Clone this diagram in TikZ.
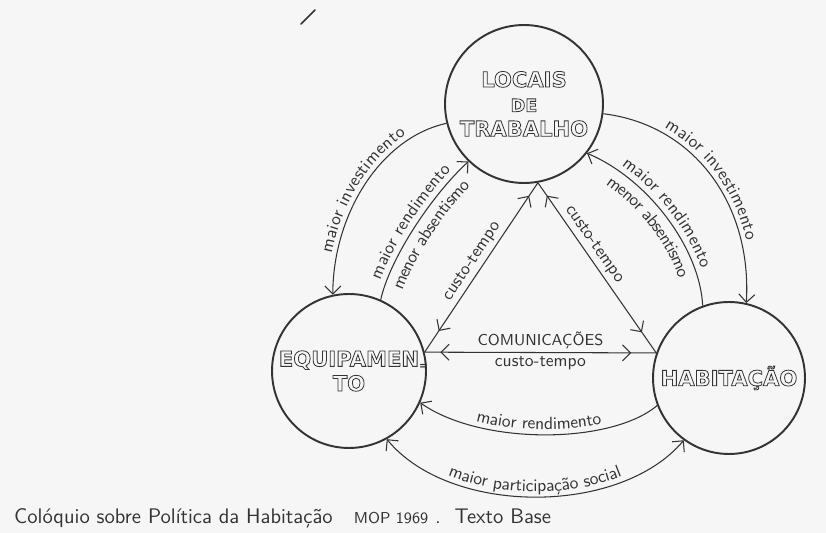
\documentclass[tikz,border=0pt]{standalone}
\usepackage{fontspec}
\newfontfamily\capsfont{DejaVu Sans}
\usetikzlibrary{arrows.meta, decorations.markings, decorations.text}
\definecolor{ink}{HTML}{333333}
\definecolor{paper}{HTML}{F6F6F6}
% outlined capitals, as the hand-lettered names in the circles
\newcommand{\hollow}[1]{\special{pdf:literal direct 1 Tr 0.45 w}#1\special{pdf:literal direct 0 Tr}}

\begin{document}
\begin{tikzpicture}[x=0.02cm, y=-0.02cm, >={Straight Barb[length=1.6mm, width=3.2mm]},
    place/.style={circle, draw=ink, line width=1.1pt, inner sep=0pt, minimum size=#1, align=center, text=ink,
        font=\capsfont\bfseries\fontsize{12}{14}\selectfont},
    link/.style={draw=ink, line width=0.6pt},
    lbl/.style={font=\sffamily, text=ink, inner sep=2pt},
    along/.style={decorate, decoration={text along path, text align=center, raise=#1}},
    twoway/.style={link, postaction={decorate}, decoration={markings,
        mark=at position 0.5cm with {\arrow{<}}, mark=at position -0.5cm with {\arrow{>}}}}]
\fill[paper] (0,0) rectangle (826,533);
\useasboundingbox (0,0) rectangle (826,533);
\draw[ink, line width=1pt, line cap=round] (301,24) -- (315,10);
% the three places
\node[place=3.16cm] (loc) at (524,104) {\hollow{LOCAIS}\\{\fontsize{10}{12}\selectfont\hollow{DE}}\\\hollow{TRABALHO}};
\node[place=3.08cm] (equip) at (349,371) {\hollow{EQUIPAMEN}\rlap{\raisebox{-2pt}{\fontsize{6}{6}\selectfont =}}\\\hollow{TO}};
\node[place=3.04cm] (hab) at (729,378) {\hollow{HABITAÇÃO}};
% outer arcs: investment leaves the work places
\draw[link, ->] (loc.194) .. controls (380,138) and (333,215) .. (equip.102);
\path[along=3pt, decoration={text={|\sffamily\color{ink}|maior investimento}}]
    (equip.102) .. controls (333,215) and (380,138) .. (loc.194);
\draw[link, ->] (loc.353) .. controls (695,125) and (752,205) .. (hab.77);
\path[along=3pt, decoration={text={|\sffamily\color{ink}|maior investimento}}]
    (loc.353) .. controls (695,125) and (752,205) .. (hab.77);
% inner arcs: the return to the work places
\draw[link, ->] (equip.66) .. controls (390,258) and (432,195) .. (loc.226);
\path[along=3.5pt, decoration={text={|\sffamily\color{ink}|maior rendimento}}]
    (equip.66) .. controls (390,258) and (432,195) .. (loc.226);
\path[along=-10.5pt, decoration={text={|\sffamily\color{ink}|menor absentismo}}]
    (equip.66) .. controls (390,258) and (432,195) .. (loc.226);
\draw[link, ->] (hab.110) .. controls (700,250) and (650,180) .. (loc.322);
\path[along=3.5pt, decoration={text={|\sffamily\color{ink}|maior rendimento}}]
    (loc.322) .. controls (650,180) and (700,250) .. (hab.110);
\path[along=-10.5pt, decoration={text={|\sffamily\color{ink}|menor absentismo}}]
    (loc.322) .. controls (650,180) and (700,250) .. (hab.110);
% the triangle of communications, both ways
\draw[twoway] (loc.280) -- node[lbl, sloped, above] (ctl) {custo-tempo} (equip.14);
\draw[twoway] (loc.280) -- node[lbl, sloped, above, pos=0.4] (ctr) {custo-tempo} (hab.161);
\draw[twoway] (equip.14) -- node[lbl, above, font=\sffamily\small] (com) {COMUNICAÇÕES} node[lbl, below] (ctb) {custo-tempo} (hab.161);
% lower arcs between housing and equipment
\draw[link, ->] (hab.201) .. controls (610,445) and (480,445) .. (equip.336);
\path[along=3pt, decoration={text={|\sffamily\color{ink}|maior rendimento}}]
    (equip.336) .. controls (480,445) and (610,445) .. (hab.201);
\draw[link, <->] (equip.299) .. controls (450,516) and (620,516) .. (hab.234);
\path[along=3pt, decoration={text={|\sffamily\color{ink}|maior participação social}}]
    (equip.299) .. controls (450,516) and (620,516) .. (hab.234);
\node[font=\sffamily\fontsize{12}{14}\selectfont, text=ink, anchor=west] (caption) at (8,518)
    {Colóquio sobre Política da Habitação\quad{\fontsize{9}{10}\selectfont MOP 1969}\ .\ \ Texto Base};
\end{tikzpicture}
\end{document}
